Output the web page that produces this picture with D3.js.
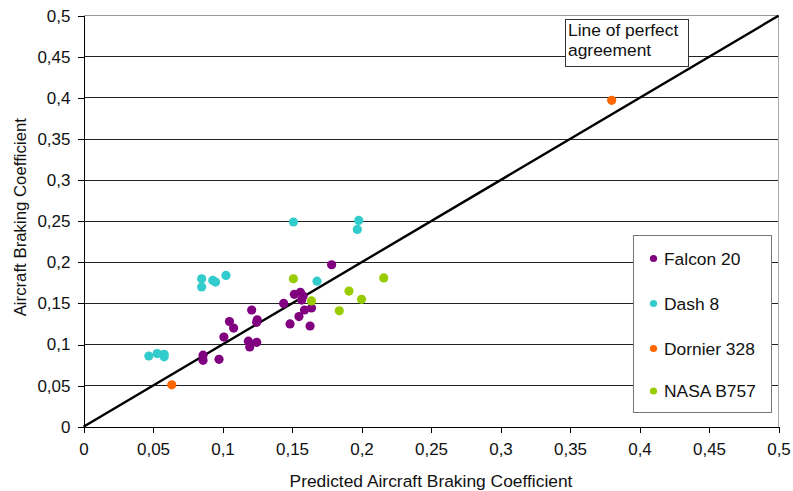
<!DOCTYPE html>
<html>
<head>
<meta charset="utf-8">
<script src="https://cdn.jsdelivr.net/npm/d3@7/dist/d3.min.js"></script>
<style>
  html, body { margin: 0; padding: 0; background: #fff; }
  svg { display: block; font-family: "Liberation Sans", Arial, sans-serif; }
</style>
</head>
<body>
<svg id="chart" width="793" height="491"></svg>
<script>
// Predicted vs measured braking coefficient, by aircraft type
const falcon20 = [
  [0.1785, 0.197], [0.1517, 0.161], [0.156, 0.1635], [0.158, 0.159], [0.157, 0.154],
  [0.144, 0.150], [0.159, 0.142], [0.164, 0.1445], [0.121, 0.142], [0.105, 0.128],
  [0.108, 0.120], [0.125, 0.130], [0.1246, 0.127], [0.155, 0.134], [0.1486, 0.125],
  [0.163, 0.1225], [0.101, 0.109], [0.1186, 0.104], [0.1196, 0.097], [0.1246, 0.1027],
  [0.086, 0.087], [0.086, 0.0807], [0.0975, 0.082]
];
const dash8 = [
  [0.085, 0.180], [0.085, 0.170], [0.093, 0.178], [0.095, 0.176], [0.1025, 0.184],
  [0.168, 0.177], [0.047, 0.086], [0.053, 0.089], [0.058, 0.088], [0.058, 0.085],
  [0.151, 0.249], [0.198, 0.251], [0.197, 0.240]
];
const dornier328 = [[0.0635, 0.051], [0.380, 0.397]];
const nasaB757 = [
  [0.151, 0.180], [0.216, 0.181], [0.191, 0.165], [0.200, 0.155], [0.164, 0.153], [0.184, 0.141]
];
const seriesNames = ["Falcon 20", "Dash 8", "Dornier 328", "NASA B757"];
const seriesColors = ["#800080", "#33CCCC", "#FF6600", "#99CC00"];
const tickValues = [0, 0.05, 0.1, 0.15, 0.2, 0.25, 0.3, 0.35, 0.4, 0.45, 0.5];
const xTitle = "Predicted Aircraft Braking Coefficient";
const yTitle = "Aircraft Braking Coefficient";
const noteLines = ["Line of perfect", "agreement"];

const series = [falcon20, dash8, dornier328, nasaB757];
const fmt = v => String(v).replace(".", ",");
const fontSize = "17.4px";

const svg = d3.select("#chart");
const plotLeft = 83.5, plotRight = 778.5, plotTop = 15.7, plotBottom = 426.7;

const x = d3.scaleLinear().domain([0, 0.5]).range([plotLeft, plotRight]);
const y = d3.scaleLinear().domain([0, 0.5]).range([plotBottom, plotTop]);

// horizontal gridlines
svg.append("g")
  .selectAll("line")
  .data(tickValues.slice(1))
  .join("line")
  .attr("x1", plotLeft).attr("x2", plotRight)
  .attr("y1", d => y(d)).attr("y2", d => y(d))
  .attr("stroke", d => d === 0.5 ? "#999" : "#222")
  .attr("stroke-width", 1)
  .attr("shape-rendering", "crispEdges");

// right border of the plot area
svg.append("line")
  .attr("x1", plotRight).attr("x2", plotRight).attr("y1", plotTop).attr("y2", plotBottom)
  .attr("stroke", "#aaa").attr("shape-rendering", "crispEdges");

// axes
const xAxis = d3.axisBottom(x).tickValues(tickValues).tickFormat(fmt).tickSize(6).tickPadding(10);
const yAxis = d3.axisLeft(y).tickValues(tickValues).tickFormat(fmt).tickSize(6).tickPadding(7);

const gx = svg.append("g").attr("transform", `translate(0,${plotBottom})`).call(xAxis);
const gy = svg.append("g").attr("transform", `translate(${plotLeft},0)`).call(yAxis);
[gx, gy].forEach(g => {
  g.select(".domain").attr("stroke", "#000").attr("shape-rendering", "crispEdges");
  g.selectAll(".tick line").attr("stroke", "#000").attr("shape-rendering", "crispEdges");
  g.selectAll(".tick text").attr("fill", "#111").style("font-size", "17px")
    .style("font-family", '"Liberation Sans", Arial, sans-serif');
});

// line of perfect agreement
svg.append("line")
  .attr("x1", x(0)).attr("y1", y(0)).attr("x2", x(0.5)).attr("y2", y(0.5))
  .attr("stroke", "#000").attr("stroke-width", 2.4);

// data points
series.forEach((pts, i) => {
  svg.append("g")
    .selectAll("circle")
    .data(pts)
    .join("circle")
    .attr("cx", d => x(d[0]))
    .attr("cy", d => y(d[1]))
    .attr("r", 4.6)
    .attr("fill", seriesColors[i]);
});

// axis titles
svg.append("text")
  .attr("x", (plotLeft + plotRight) / 2).attr("y", 487)
  .attr("text-anchor", "middle")
  .style("font-size", fontSize).attr("fill", "#111")
  .text(xTitle);

svg.append("text")
  .attr("transform", `translate(26,${(plotTop + plotBottom) / 2 - 4}) rotate(-90)`)
  .attr("text-anchor", "middle")
  .style("font-size", "16.8px").attr("fill", "#111")
  .text(yTitle);

// annotation box
const note = svg.append("g");
note.append("rect")
  .attr("x", 565.5).attr("y", 19.5).attr("width", 123).attr("height", 47)
  .attr("fill", "#fff").attr("stroke", "#333").attr("stroke-width", 1);
note.selectAll("text")
  .data(noteLines)
  .join("text")
  .attr("x", 568).attr("y", (d, i) => 36 + i * 20)
  .style("font-size", fontSize).attr("fill", "#111")
  .text(d => d);

// legend
const legend = svg.append("g");
legend.append("rect")
  .attr("x", 633.5).attr("y", 235.5).attr("width", 138).attr("height", 177)
  .attr("fill", "#fff").attr("stroke", "#777").attr("stroke-width", 1);
const rows = legend.selectAll("g.row")
  .data(seriesNames)
  .join("g")
  .attr("class", "row")
  .attr("transform", (d, i) => `translate(0,${[258.5, 303.5, 348.5, 391][i]})`);
rows.append("circle")
  .attr("cx", 653.5).attr("cy", 0).attr("r", 3.6)
  .attr("fill", (d, i) => seriesColors[i]);
rows.append("text")
  .attr("x", 664).attr("y", 6)
  .style("font-size", fontSize).attr("fill", "#111")
  .text(d => d);
</script>
</body>
</html>
